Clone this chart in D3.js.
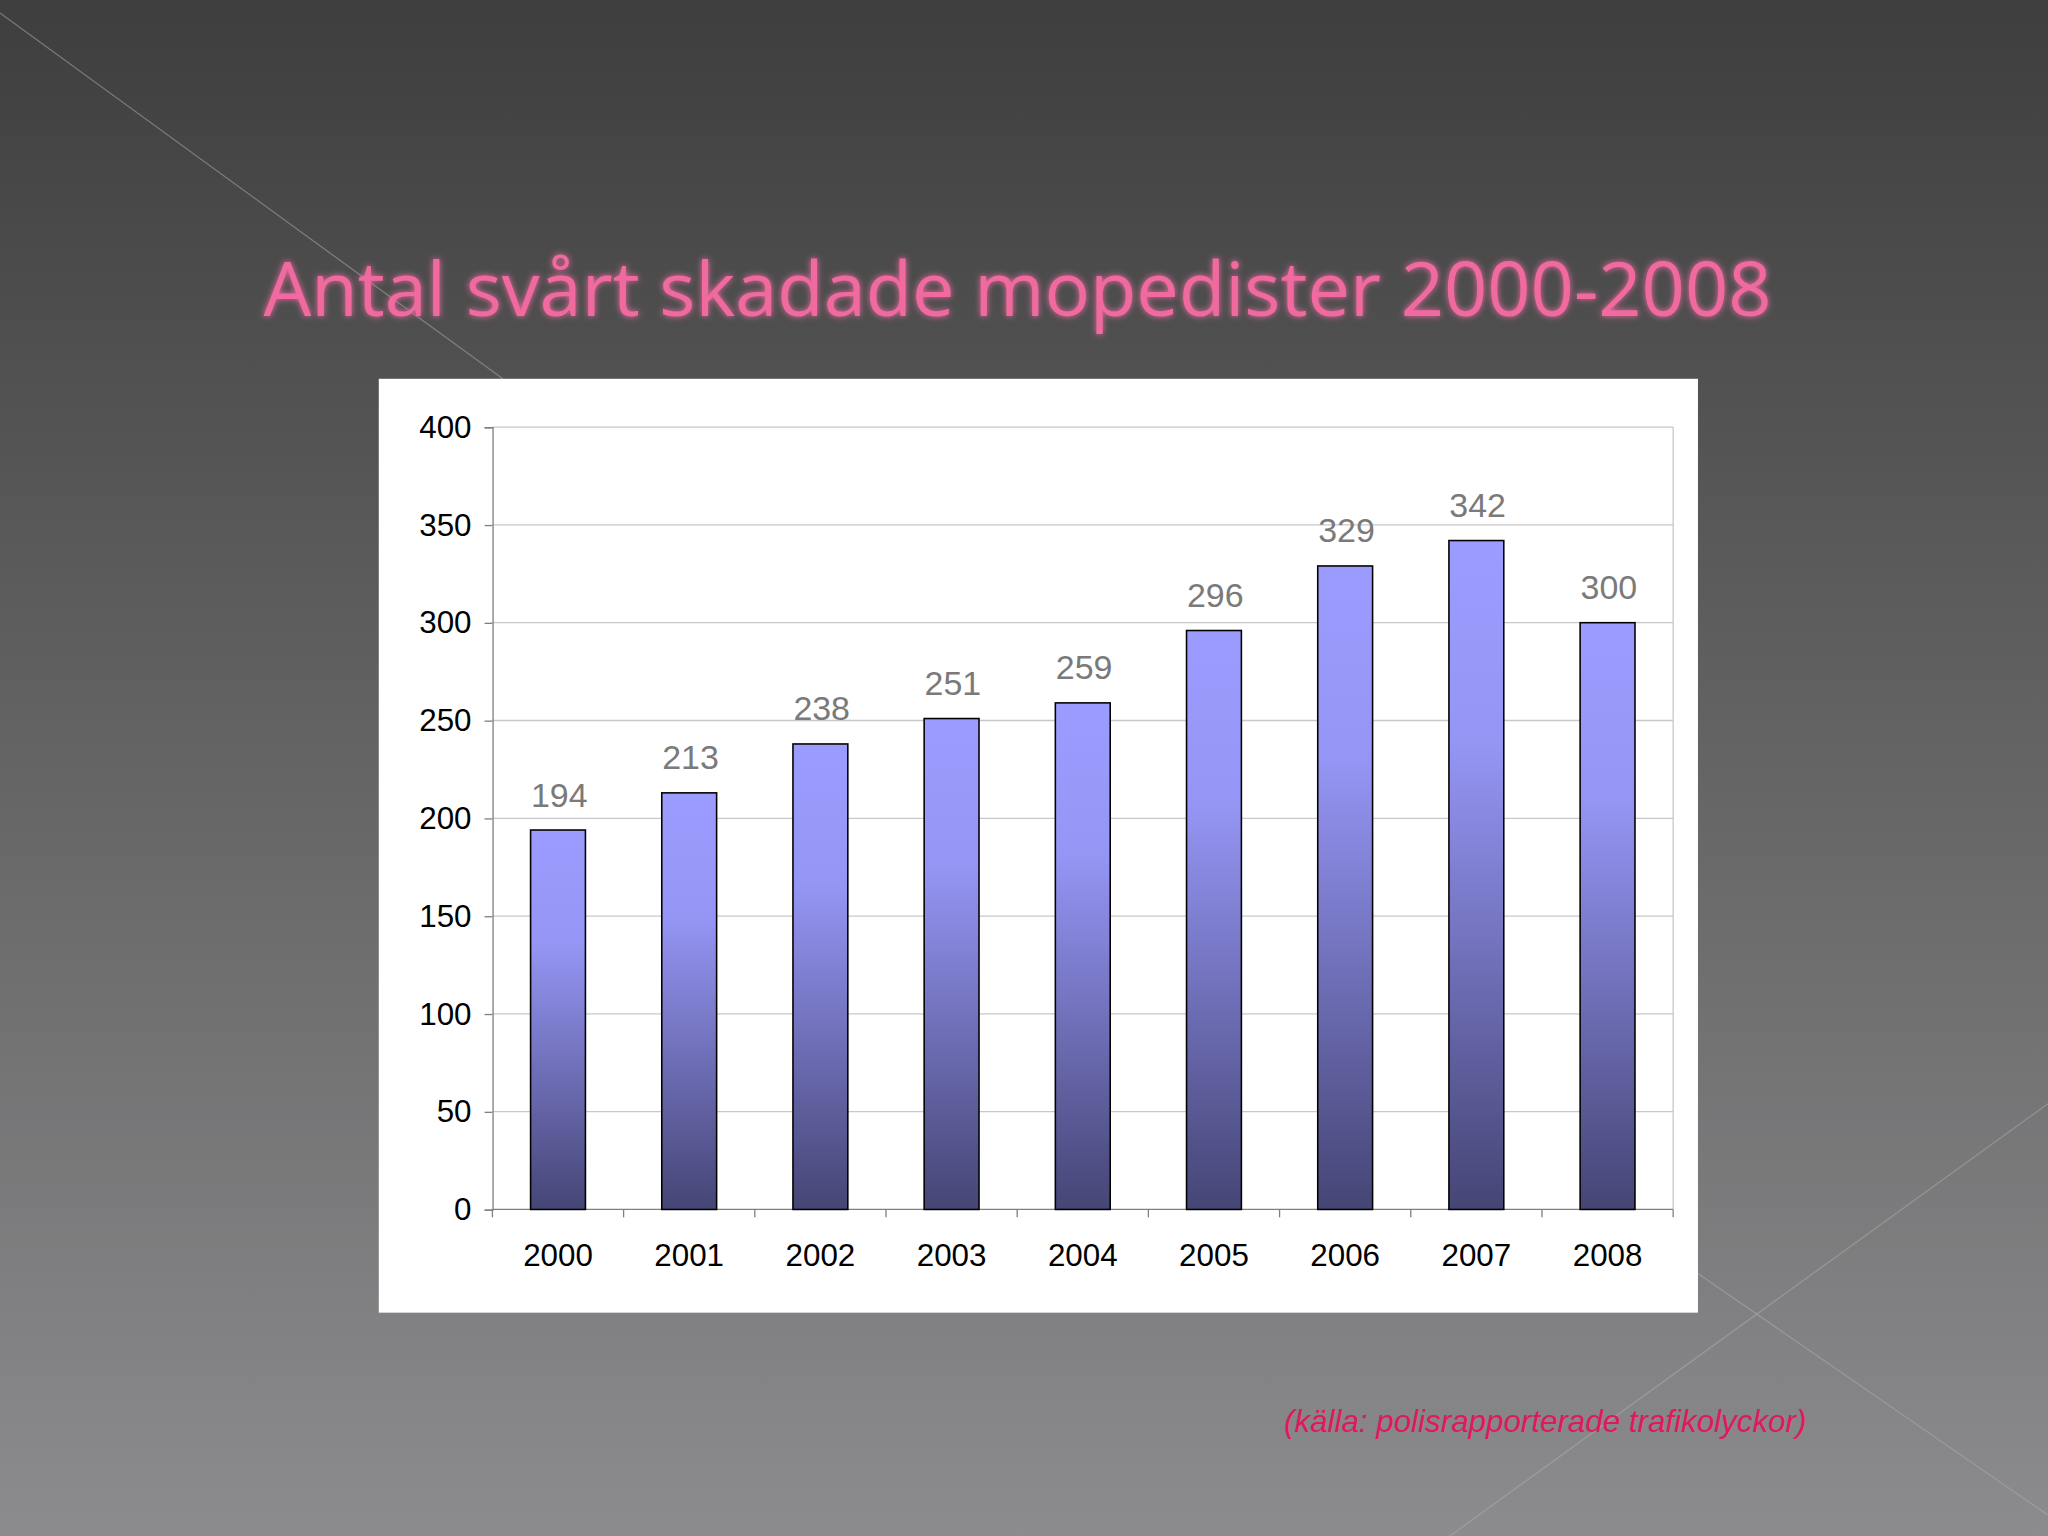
<!DOCTYPE html>
<html><head><meta charset="utf-8">
<script src="https://cdn.jsdelivr.net/npm/d3@7"></script>
<style>body{margin:0;background:#444}</style>
</head><body>
<script>
var years = ["2000","2001","2002","2003","2004","2005","2006","2007","2008"];
var values = [194, 213, 238, 251, 259, 296, 329, 342, 300];
var yTicks = [0, 50, 100, 150, 200, 250, 300, 350, 400];

var svg = d3.select("body").append("svg")
    .attr("width", 2048).attr("height", 1536)
    .attr("viewBox", "0 0 1568 1176");
var defs = svg.append("defs");

var bg = defs.append("linearGradient").attr("id", "bg").attr("x1",0).attr("y1",0).attr("x2",0).attr("y2",1);
bg.append("stop").attr("offset","0%").attr("stop-color","#3e3e3e");
bg.append("stop").attr("offset","100%").attr("stop-color","#8c8b8d");
var bar = defs.append("linearGradient").attr("id", "bar").attr("x1",0).attr("y1",0).attr("x2",0).attr("y2",1);
bar.append("stop").attr("offset","0%").attr("stop-color","#9c9cff");
bar.append("stop").attr("offset","30%").attr("stop-color","#9595f5");
bar.append("stop").attr("offset","100%").attr("stop-color","#454575");
var glow = defs.append("filter").attr("id","glow").attr("x","-10%").attr("y","-30%").attr("width","120%").attr("height","160%");
glow.append("feGaussianBlur").attr("stdDeviation",2.5).attr("result","b");
var m = glow.append("feMerge");
m.append("feMergeNode").attr("in","b");
m.append("feMergeNode").attr("in","SourceGraphic");

svg.append("rect").attr("width",1568).attr("height",1176).attr("fill","url(#bg)");

//faint decorative lines
[[0,10,385,290],[1568,845,1110,1176],[1300,975,1568,1160]].forEach(function(l){
    svg.append("line").attr("x1",l[0]).attr("y1",l[1]).attr("x2",l[2]).attr("y2",l[3])
        .attr("stroke","#b0b0b0").attr("stroke-opacity",0.5).attr("stroke-width",1);
});

svg.append("text").attr("x",779).attr("y",242).attr("text-anchor","middle")
    .attr("font-family","Open Sans, sans-serif").attr("font-size",58)
    .attr("fill","#f06aa0").attr("filter","url(#glow)")
    .text("Antal svårt skadade mopedister 2000-2008");

//chart box
svg.append("rect").attr("x",290).attr("y",290).attr("width",1010).attr("height",715).attr("fill","#fff");

var x = d3.scaleBand().domain(years).range([377,1281]);
var y = d3.scaleLinear().domain([0,400]).range([926,327]);

svg.append("g").selectAll("line").data(yTicks.slice(1)).enter().append("line")
    .attr("x1",377).attr("x2",1281).attr("y1",y).attr("y2",y)
    .attr("stroke","#c8c8c8").attr("stroke-width",1);
svg.append("line").attr("x1",1281).attr("x2",1281).attr("y1",327).attr("y2",926).attr("stroke","#c8c8c8");

var yAxis = svg.append("g").attr("transform","translate(377,0)")
    .call(d3.axisLeft(y).tickValues(yTicks).tickSize(6).tickPadding(10));
var xAxis = svg.append("g").attr("transform","translate(0,926)")
    .call(d3.axisBottom(x).tickSize(0).tickPadding(26));
[yAxis, xAxis].forEach(function(a){
    a.selectAll("text").attr("font-family","Arial, Liberation Sans, sans-serif").attr("font-size",24).attr("fill","#000");
    a.selectAll("path,line").attr("stroke","#808080");
});
xAxis.select(".domain").attr("d","M377,0H1281");
svg.append("g").selectAll("line").data(d3.range(10)).enter().append("line")
    .attr("x1",function(i){return 377 + i*x.step();}).attr("x2",function(i){return 377 + i*x.step();})
    .attr("y1",926).attr("y2",932).attr("stroke","#808080");

var bw = 42;
svg.append("g").selectAll("rect").data(values).enter().append("rect")
    .attr("x",function(d,i){return x(years[i]) + x.bandwidth()/2 - bw/2;})
    .attr("y",function(d){return y(d);})
    .attr("width",bw).attr("height",function(d){return 926 - y(d);})
    .attr("fill","url(#bar)").attr("stroke","#000").attr("stroke-width",1.2);

svg.append("g").selectAll("text").data(values).enter().append("text")
    .attr("x",function(d,i){return x(years[i]) + x.bandwidth()/2 + 1;})
    .attr("y",function(d){return y(d) - 18;})
    .attr("text-anchor","middle").attr("font-family","Arial, Liberation Sans, sans-serif")
    .attr("font-size",26).attr("fill","#7a7a7a").text(function(d){return d;});

svg.append("text").attr("x",1383).attr("y",1096).attr("text-anchor","end")
    .attr("font-family","Arial, Liberation Sans, sans-serif").attr("font-style","italic")
    .attr("font-size",24).attr("fill","#e0185e")
    .text("(källa: polisrapporterade trafikolyckor)");
</script>
</body></html>
